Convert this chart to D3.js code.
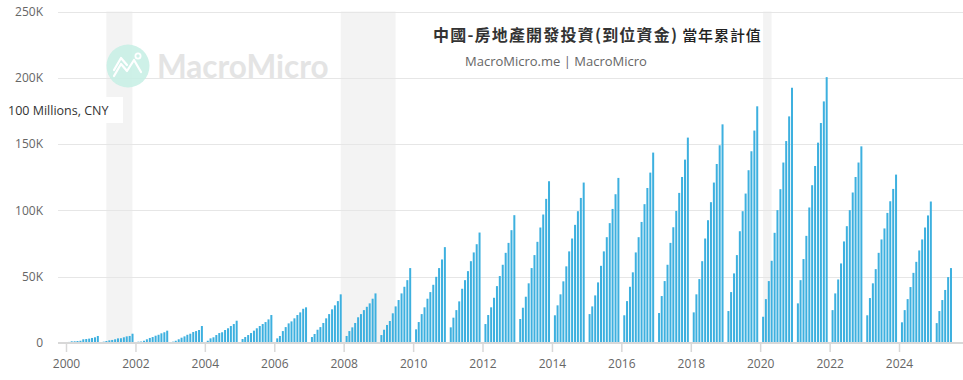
<!DOCTYPE html>
<html>
<head>
<meta charset="utf-8">
<script src="https://cdn.jsdelivr.net/npm/d3@7"></script>
<style>
  html, body { margin: 0; padding: 0; background: #fff; }
  svg { display: block; font-family: "Open Sans", "Noto Sans", sans-serif; }
</style>
</head>
<body>
<svg id="chart" width="963" height="380"></svg>
<script>
// ---- Data (100 Millions CNY, year-to-date cumulative; months Feb..Dec) ----
const monthNums = [2, 3, 4, 5, 6, 7, 8, 9, 10, 11, 12];
const years = [2000, 2001, 2002, 2003, 2004, 2005, 2006, 2007, 2008, 2009, 2010, 2011, 2012,
               2013, 2014, 2015, 2016, 2017, 2018, 2019, 2020, 2021, 2022, 2023, 2024, 2025];
const v2000 = [800, 1300, 1300, 1500, 1700, 2800, 3000, 3300, 3800, 4300, 5300];
const v2001 = [1000, 1500, 2000, 2300, 2800, 3500, 3600, 4300, 5000, 5300, 7000];
const v2002 = [1000, 1100, 1700, 2800, 3800, 4500, 5500, 6200, 7300, 8100, 9300];
const v2003 = [1000, 1700, 2800, 4000, 5000, 6200, 7000, 8300, 9000, 9800, 12800];
const v2004 = [1700, 3500, 4300, 6000, 7500, 8100, 9800, 11100, 12800, 14300, 16800];
const v2005 = [3000, 4500, 6000, 7500, 9300, 11100, 12800, 14300, 15800, 17800, 21100];
const v2006 = [3500, 5300, 9000, 12000, 14800, 16300, 18600, 21100, 23100, 25800, 26900];
const v2007 = [4500, 6800, 10000, 12000, 15100, 18600, 21800, 25400, 28400, 31600, 36700];
const v2008 = [5300, 9000, 11800, 15100, 19400, 21800, 24800, 27300, 29900, 33400, 37400];
const v2009 = [6000, 10000, 13600, 16600, 22400, 27600, 32400, 37400, 42400, 47400, 56500];
const v2010 = [10300, 15800, 21800, 26900, 33400, 38400, 43900, 49900, 56500, 63000, 72300];
const v2011 = [11800, 19100, 24800, 31400, 40900, 47400, 54200, 61700, 68300, 74500, 83300];
const v2012 = [14300, 21100, 26900, 34100, 42900, 50500, 59000, 68000, 75500, 85100, 96400];
const v2013 = [18100, 26600, 34900, 45000, 56500, 66300, 76300, 87100, 96900, 108700, 122000];
const v2014 = [20900, 28400, 36700, 46500, 57800, 69100, 78800, 89100, 99400, 109400, 121000];
const v2015 = [21800, 27600, 35900, 45700, 58200, 69100, 79800, 90400, 101100, 112200, 124500];
const v2016 = [20900, 31600, 42400, 53300, 68300, 79800, 91300, 104700, 116900, 128500, 143600];
const v2017 = [22600, 35400, 46700, 59000, 75500, 87300, 99600, 113200, 125200, 138300, 154900];
const v2018 = [23100, 36700, 48200, 61700, 78800, 92600, 106200, 121000, 135000, 149100, 164900];
const v2019 = [24100, 38400, 52500, 66300, 84300, 99400, 112700, 130300, 144600, 160200, 178500];
const v2020 = [19800, 33100, 46700, 62000, 83100, 100200, 116000, 136100, 152300, 170900, 192500];
const v2021 = [29900, 47400, 63300, 80800, 102200, 119000, 133500, 151100, 165900, 182200, 200500];
const v2022 = [24800, 37400, 47900, 60000, 76600, 88100, 100200, 113500, 125200, 136100, 148300];
const v2023 = [20900, 33900, 45000, 55700, 68000, 78100, 86400, 98100, 106900, 116200, 127000];
const v2024 = [15600, 24800, 33100, 42200, 52900, 61200, 69800, 78100, 87100, 96200, 106700];
const v2025 = [15000, 24100, 32400, 40000, 49700, 56500];
const yearValues = [v2000, v2001, v2002, v2003, v2004, v2005, v2006, v2007, v2008, v2009, v2010,
                    v2011, v2012, v2013, v2014, v2015, v2016, v2017, v2018, v2019, v2020, v2021,
                    v2022, v2023, v2024, v2025];
const yTicks = [0, 50000, 100000, 150000, 200000, 250000];
const xTickYears = [2000, 2002, 2004, 2006, 2008, 2010, 2012, 2014, 2016, 2018, 2020, 2022, 2024];
const recessionStart = ["2001-03-01", "2007-12-01", "2020-02-01"];
const recessionEnd = ["2001-11-30", "2009-06-30", "2020-04-30"];
const titleMain = "中國-房地產開發投資(到位資金)";
const titleSub = "當年累計值";
const sourceText = "MacroMicro.me | MacroMicro";
const unitText = "100 Millions, CNY";

// ---- Build records ----
const records = [];
years.forEach((yr, i) => {
  yearValues[i].forEach((v, j) => {
    records.push({ date: new Date(yr, monthNums[j] - 1, 1), value: v });
  });
});

const svg = d3.select("#chart");
const plotLeft = 58, plotRight = 963, plotTop = 11.5, plotBottom = 343;

const x = d3.scaleTime()
  .domain([new Date(2000, 0, 1), new Date(2024, 0, 1)])
  .range([66, 899]);
const y = d3.scaleLinear().domain([0, 250000]).range([plotBottom, plotTop]);

// recession shading
const parse = d3.timeParse("%Y-%m-%d");
svg.append("g").selectAll("rect")
  .data(recessionStart.map((s, i) => ({ s: parse(s), e: parse(recessionEnd[i]) })))
  .join("rect")
  .attr("x", d => x(d.s))
  .attr("width", d => x(d.e) - x(d.s))
  .attr("y", plotTop)
  .attr("height", plotBottom - plotTop)
  .attr("fill", "#f3f3f3");

// gridlines
svg.append("g").selectAll("line")
  .data(yTicks.filter(t => t > 0))
  .join("line")
  .attr("x1", plotLeft).attr("x2", plotRight)
  .attr("y1", d => Math.round(y(d)) + 0.5).attr("y2", d => Math.round(y(d)) + 0.5)
  .attr("stroke", "#e6e6e6").attr("stroke-width", 1);

// watermark
const wm = svg.append("g");
wm.append("circle").attr("cx", 128).attr("cy", 66).attr("r", 21.5).attr("fill", "#c6eee4").attr("opacity", 0.85);
wm.append("path")
  .attr("d", "M114,76 L121,64 L127,71 L134,60 L141,72")
  .attr("fill", "none").attr("stroke", "#ffffff").attr("stroke-width", 2.2)
  .attr("stroke-linejoin", "round").attr("stroke-linecap", "round");
wm.append("path")
  .attr("d", "M114,70 L121,58 L127,65")
  .attr("fill", "none").attr("stroke", "#ffffff").attr("stroke-width", 2.2)
  .attr("stroke-linejoin", "round").attr("stroke-linecap", "round");
wm.append("circle").attr("cx", 138).attr("cy", 56).attr("r", 2.6)
  .attr("fill", "none").attr("stroke", "#fff").attr("stroke-width", 1.8);
wm.append("text").attr("x", 157).attr("y", 78)
  .attr("font-family", "Lato, 'Open Sans', sans-serif").attr("font-size", 31.5).attr("font-weight", 700)
  .attr("fill", "#e4e4e4").text("MacroMicro");

// bars
const bw = 2.0;
svg.append("g").selectAll("rect")
  .data(records)
  .join("rect")
  .attr("x", d => x(d.date) - bw / 2)
  .attr("width", bw)
  .attr("y", d => y(d.value))
  .attr("height", d => plotBottom - y(d.value))
  .attr("fill", "#3db0df");

// x axis
const xAxis = d3.axisBottom(x)
  .tickValues(xTickYears.map(yv => new Date(yv, 0, 1)))
  .tickFormat(d3.timeFormat("%Y"))
  .tickSize(9).tickPadding(7);
const gx = svg.append("g").attr("transform", `translate(0,${plotBottom})`).call(xAxis);
gx.select(".domain").remove();
gx.append("line").attr("x1", plotLeft).attr("x2", plotRight).attr("y1", 0).attr("y2", 0)
  .attr("stroke", "#d8d8d8").attr("stroke-width", 2);
gx.selectAll(".tick line").attr("stroke", "#d8d8d8").attr("stroke-width", 1.5);
gx.selectAll(".tick text").attr("fill", "#666").attr("font-size", 12)
  .attr("font-family", "'Open Sans', sans-serif");

// y axis labels
const yAxis = d3.axisLeft(y).tickValues(yTicks)
  .tickFormat(d => d === 0 ? "0" : (d / 1000) + "K").tickSize(0).tickPadding(0);
const gy = svg.append("g").attr("transform", `translate(43,0)`).call(yAxis);
gy.select(".domain").remove();
gy.selectAll(".tick text").attr("fill", "#666").attr("font-size", 12)
  .attr("font-family", "'Open Sans', sans-serif");

// unit label with white box
svg.append("rect").attr("x", 0).attr("y", 97).attr("width", 123).attr("height", 26).attr("fill", "#fff");
svg.append("text").attr("x", 8).attr("y", 115).attr("font-size", 12.5).attr("fill", "#333")
  .attr("font-family", "'Open Sans', sans-serif").text(unitText);

// title
const t = svg.append("text").attr("x", 433).attr("y", 41)
  .attr("font-family", "'Noto Sans CJK TC', 'Noto Sans', sans-serif");
t.append("tspan").attr("font-size", 16).attr("font-weight", 700).attr("fill", "#333")
  .attr("letter-spacing", 1.2).text(titleMain);
t.append("tspan").attr("dx", 4).attr("font-size", 15).attr("font-weight", 500).attr("fill", "#222")
  .attr("letter-spacing", 0.9).text(titleSub);

svg.append("text").attr("x", 465).attr("y", 66).attr("font-size", 13).attr("fill", "#666")
  .attr("font-family", "'Open Sans', sans-serif").text(sourceText);
</script>
</body>
</html>
